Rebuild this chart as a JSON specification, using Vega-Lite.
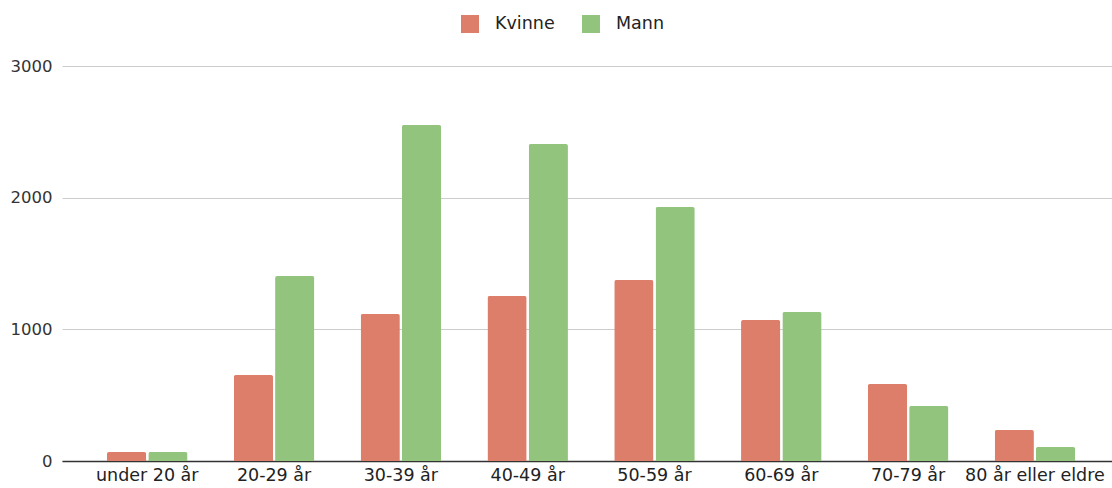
{
  "$schema": "https://vega.github.io/schema/vega-lite/v6.json",
  "autosize": "none",
  "width": 1050,
  "height": 395,
  "padding": {"left": 62, "top": 66, "right": 0, "bottom": 27},
  "background": "white",
  "data": {
    "values": [
      {"alder": "under 20 år", "kjonn": "Kvinne", "antall": 68},
      {"alder": "under 20 år", "kjonn": "Mann", "antall": 68},
      {"alder": "20-29 år", "kjonn": "Kvinne", "antall": 653},
      {"alder": "20-29 år", "kjonn": "Mann", "antall": 1405},
      {"alder": "30-39 år", "kjonn": "Kvinne", "antall": 1116},
      {"alder": "30-39 år", "kjonn": "Mann", "antall": 2551},
      {"alder": "40-49 år", "kjonn": "Kvinne", "antall": 1253},
      {"alder": "40-49 år", "kjonn": "Mann", "antall": 2407},
      {"alder": "50-59 år", "kjonn": "Kvinne", "antall": 1374},
      {"alder": "50-59 år", "kjonn": "Mann", "antall": 1929},
      {"alder": "60-69 år", "kjonn": "Kvinne", "antall": 1071},
      {"alder": "60-69 år", "kjonn": "Mann", "antall": 1131},
      {"alder": "70-79 år", "kjonn": "Kvinne", "antall": 585},
      {"alder": "70-79 år", "kjonn": "Mann", "antall": 418},
      {"alder": "80 år eller eldre", "kjonn": "Kvinne", "antall": 235},
      {"alder": "80 år eller eldre", "kjonn": "Mann", "antall": 106}
    ]
  },
  "mark": {"type": "bar", "cornerRadiusTopLeft": 2, "cornerRadiusTopRight": 2},
  "encoding": {
    "x": {
      "field": "alder",
      "type": "nominal",
      "sort": null,
      "title": null,
      "scale": {"paddingInner": 0.365, "paddingOuter": 0.3225, "align": 0.55},
      "axis": {
        "labelAngle": 0,
        "ticks": false,
        "domainColor": "#333333",
        "domainWidth": 1.5,
        "labelFont": "DejaVu Sans",
        "labelFontSize": 17.5,
        "labelColor": "#222222",
        "labelPadding": 5,
        "labelOverlap": false,
        "labelBound": false,
        "grid": false
      }
    },
    "xOffset": {"field": "kjonn", "type": "nominal", "scale": {"paddingInner": 0.05}},
    "y": {
      "field": "antall",
      "type": "quantitative",
      "title": null,
      "scale": {"domain": [0, 3000]},
      "axis": {
        "values": [0, 1000, 2000, 3000],
        "format": "d",
        "ticks": false,
        "domain": false,
        "gridColor": "#cccccc",
        "labelFont": "DejaVu Sans",
        "labelFontSize": 16.5,
        "labelColor": "#333333",
        "labelPadding": 10
      }
    },
    "color": {
      "field": "kjonn",
      "type": "nominal",
      "title": null,
      "scale": {"domain": ["Kvinne", "Mann"], "range": ["#dd7e6b", "#93c47d"]},
      "legend": {
        "orient": "none",
        "legendX": 399,
        "legendY": -51,
        "direction": "horizontal",
        "symbolType": "square",
        "symbolSize": 324,
        "symbolStrokeWidth": 0,
        "labelFont": "DejaVu Sans",
        "labelFontSize": 17.5,
        "labelColor": "#222222",
        "labelOffset": 16,
        "columnPadding": 27
      }
    }
  },
  "config": {"view": {"stroke": null}}
}
